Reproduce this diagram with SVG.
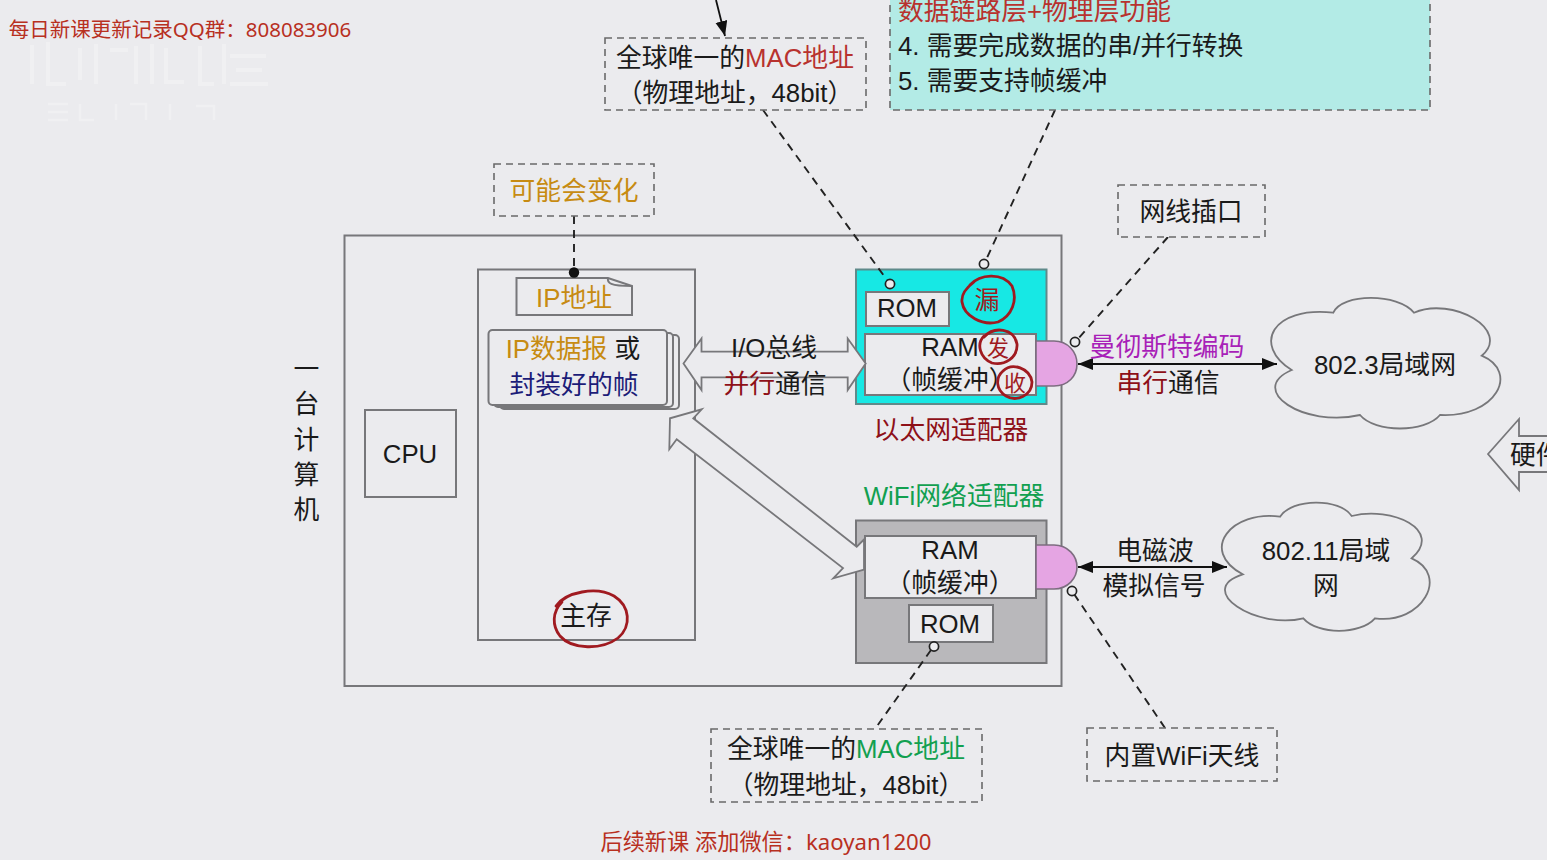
<svg xmlns="http://www.w3.org/2000/svg" width="1547" height="860" viewBox="0 0 1547 860">
<style>
text{font-family:"Liberation Sans","Noto Sans CJK SC",sans-serif;font-size:25.8px;fill:#1a1a1a;text-anchor:middle}
.box{fill:#ebebee;stroke:#77777a;stroke-width:2}
.dash{fill:#ebebee;stroke:#6a6a6a;stroke-width:1.6;stroke-dasharray:7 5}
.link{fill:none;stroke:#222;stroke-width:1.9;stroke-dasharray:8 6}
.solid{fill:none;stroke:#111;stroke-width:1.8}
.hollow{fill:#ebebee;stroke:#222;stroke-width:1.7}
.big{fill:#ebebee;stroke:#77777a;stroke-width:1.8;stroke-linejoin:miter}
.pink{fill:#e5a5e3;stroke:#7d6d80;stroke-width:1.6}
.ink{fill:none;stroke:#a01a20;stroke-width:2.8;stroke-linecap:round}
.hand{font-size:25px;fill:#a01a20}
.or{fill:#c78b12}.red{fill:#b8322e}.mag{fill:#a81fb8}.dk{fill:#8e1018}.gr{fill:#12a050}.nv{fill:#1c1c78}
.wm{fill:none;stroke:#f2f2f4;stroke-width:4;opacity:.7}
.ad{font-family:"Noto Sans","Noto Sans CJK SC",sans-serif;fill:#b8301f;font-size:20.5px}
</style>
<defs>
<marker id="ah" markerWidth="16" markerHeight="14" refX="15" refY="6" orient="auto-start-reverse" markerUnits="userSpaceOnUse"><path d="M0 0L15 6L0 12Z" fill="#111"/></marker>
</defs>
<rect width="1547" height="860" fill="#ebebee"/>
<g id="watermark">
<path class="wm" d="M32 45V84M48 42V84H66M80 48V80M96 44V84M110 50H128M136 46V84M152 44V84M166 48V82H184M200 46V84H214M224 44V84M230 56H266M236 70H262M230 84H268"/>
<path class="wm" style="stroke-width:2.5" d="M48 104H68M48 112H68M48 120H68M80 104V120H94M116 104V120M130 104H146V120M170 104V120M196 106H214V120"/>
</g>
<text class="ad" x="180" y="37">每日新课更新记录QQ群：808083906</text>
<g id="computer"><rect class="box" x="344.500" y="235.500" width="717" height="450.500"/></g>
<g id="computer-label">
<text x="306.500" y="378">一</text><text x="306.500" y="413">台</text><text x="306.500" y="449">计</text><text x="306.500" y="484">算</text><text x="306.500" y="519">机</text>
</g>
<g id="cpu"><rect class="box" x="365" y="410" width="91" height="87"/><text x="410" y="463">CPU</text></g>
<g id="memory"><rect class="box" x="478" y="269.500" width="217" height="370.500"/>
<text x="586" y="625">主存</text>
<path class="ink" d="M556 606C566 592 596 586 614 596C630 606 632 626 618 638C602 650 572 650 560 636C552 626 552 612 562 602"/>
</g>
<g id="ip-address"><path class="box" d="M516.500 278H608L632 286V315H516.500Z"/><path class="box" style="fill:none" d="M608 278C607 283 610 286 632 286"/>
<text x="574" y="307"><tspan class="or">IP地址</tspan></text></g>
<g id="datagram-stack">
<rect class="box" x="500" y="335" width="179" height="74" rx="4"/>
<rect class="box" x="494" y="333" width="179" height="74" rx="4"/>
<rect class="box" x="488.500" y="330" width="178.500" height="75" rx="4"/>
<text x="573" y="358"><tspan class="or">IP数据报</tspan> 或</text>
<text x="574" y="394" class="nv">封装好的帧</text>
</g>
<g id="ethernet-adapter">
<rect x="856" y="269.500" width="190.500" height="134.500" fill="#17e8e4" stroke="#5f8a8a" stroke-width="2"/>
<rect class="box" x="866" y="292" width="83" height="34"/><text x="907" y="317">ROM</text>
<rect class="box" x="865" y="334" width="171" height="61"/>
<text x="950" y="356">RAM</text><text x="950" y="389">（帧缓冲）</text>
<path class="pink" d="M1036 341H1054C1068 341 1077 352 1077 364C1077 376 1068 386 1054 386H1036Z"/>
<text x="951" y="439" class="dk">以太网适配器</text>
<text class="hand" x="987" y="309">漏</text><text class="hand" style="font-size:22px" x="998" y="356">发</text><text class="hand" style="font-size:22px" x="1015" y="391">收</text>
<path class="ink" d="M970 285C980 274 1002 272 1012 286C1018 300 1012 316 998 322C982 326 964 316 962 302C961 294 966 288 974 282"/>
<path class="ink" d="M984 337C994 326 1014 328 1017 344C1018 358 1004 366 992 363C980 358 976 344 984 336"/>
<path class="ink" d="M1003 371C1012 362 1030 368 1032 382C1032 396 1016 402 1006 396C996 390 995 378 1003 371"/>
</g>
<g id="wifi-adapter">
<text x="954" y="505" class="gr">WiFi网络适配器</text>
<rect x="856" y="520.500" width="190.500" height="142.500" fill="#b9b8bb" stroke="#77777a" stroke-width="2"/>
<rect class="box" x="865" y="536" width="171" height="62"/>
<text x="950" y="559">RAM</text><text x="950" y="592">（帧缓冲）</text>
<rect class="box" x="909" y="605" width="84" height="37"/><text x="950" y="633">ROM</text>
<path class="pink" d="M1036 545H1054C1068 545 1077 556 1077 567C1077 578 1068 589 1054 589H1036Z"/>
</g>
<g id="connectors">
<polygon class="big" points="683.500,363.500 701.500,338.500 701.500,351.700 847.700,351.700 847.700,338.500 865.700,363.500 847.700,390 847.700,377.300 701.500,377.300 701.500,390"/>
<path class="big" d="M864 569.700L833.300 578.300L843 568L676.700 439.300L669.300 449.300L670 418.300L701.700 409.300L693.300 418.300L856.700 546.700L864 539.500Z"/>
<path class="link" d="M763 110L887 280"/>
<path class="link" d="M1055 110L986 260"/>
<path class="link" d="M574 216V272"/>
<path class="link" d="M1168 237L1078 339"/>
<path class="link" d="M1074 594L1165 728"/>
<path class="link" d="M931 650L875 729"/>
<path class="solid" d="M716 0L725 36" marker-end="url(#ah)"/>
<path class="solid" d="M1078 364H1277" marker-start="url(#ah)" marker-end="url(#ah)"/>
<path class="solid" d="M1078 567H1227" marker-start="url(#ah)" marker-end="url(#ah)"/>
<circle cx="574" cy="272.500" r="5.200" fill="#111"/>
<circle class="hollow" cx="890" cy="284" r="4.600"/><circle class="hollow" cx="984" cy="264" r="4.600"/>
<circle class="hollow" cx="934" cy="646.500" r="4.600"/>
<circle class="hollow" cx="1075" cy="342" r="4.600"/>
<circle class="hollow" cx="1072" cy="591" r="4.600"/>
</g>
<g id="bus-labels">
<text x="774" y="357">I/O总线</text>
<text x="775" y="393"><tspan class="dk">并行</tspan>通信</text>
</g>
<g id="top-mac"><rect class="dash" x="605" y="38" width="261" height="72"/>
<text x="735" y="67">全球唯一的<tspan class="red">MAC地址</tspan></text><text x="735" y="102">（物理地址，48bit）</text></g>
<g id="top-note"><rect x="890" y="-20" width="540" height="130" fill="#b3ebe6" stroke="#6a6a6a" stroke-width="1.600" stroke-dasharray="7 5"/>
<text x="898" y="20" class="red" style="text-anchor:start">数据链路层+物理层功能</text>
<text x="898" y="55" style="text-anchor:start">4. 需要完成数据的串/并行转换</text>
<text x="898" y="90" style="text-anchor:start">5. 需要支持帧缓冲</text></g>
<g id="may-change"><rect class="dash" x="494" y="164" width="160" height="52"/><text x="574" y="200" class="or">可能会变化</text></g>
<g id="port"><rect class="dash" x="1118" y="185" width="147" height="52"/><text x="1191" y="221">网线插口</text></g>
<g id="bottom-mac"><rect class="dash" x="711" y="729" width="271" height="73"/>
<text x="846" y="758">全球唯一的<tspan class="gr">MAC地址</tspan></text><text x="846" y="794">（物理地址，48bit）</text></g>
<g id="antenna"><rect class="dash" x="1087" y="728" width="190" height="53"/><text x="1182" y="765">内置WiFi天线</text></g>
<g id="link-labels">
<text x="1167" y="356" class="mag">曼彻斯特编码</text>
<text x="1168" y="392"><tspan class="dk">串行</tspan>通信</text>
<text x="1155" y="560">电磁波</text>
<text x="1154" y="595">模拟信号</text>
</g>
<g id="lan-8023">
<path class="big" d="M1333.300 312.700C1342 293 1398 293 1414 312.700C1452 296 1512 330 1481.700 355.700C1520 372 1496 418 1440 415C1425 433 1375 433 1360 415C1304 428 1246 390 1291.700 370C1252 345 1272 306 1333.300 312.700Z"/>
<text x="1385" y="374">802.3局域网</text></g>
<g id="lan-80211">
<path class="big" d="M1280 516.700C1292 498 1340 498 1351.700 516C1392 506 1444 530 1411.700 558.300C1450 575 1422 625 1375 618.300C1360 635 1318 635 1303.300 618.300C1256 630 1194 590 1242.700 574.300C1198 550 1232 510 1280 516.700Z"/>
<text x="1326" y="560">802.11局域</text><text x="1326" y="595">网</text></g>
<g id="hardware"><polygon class="big" points="1488,454 1519,419 1519,436 1550,436 1550,472 1519,472 1519,490"/><text x="1510" y="464" style="text-anchor:start">硬件</text></g>
<text class="ad" x="766" y="850" style="font-size:22.200px">后续新课 添加微信：kaoyan1200</text>
</svg>
